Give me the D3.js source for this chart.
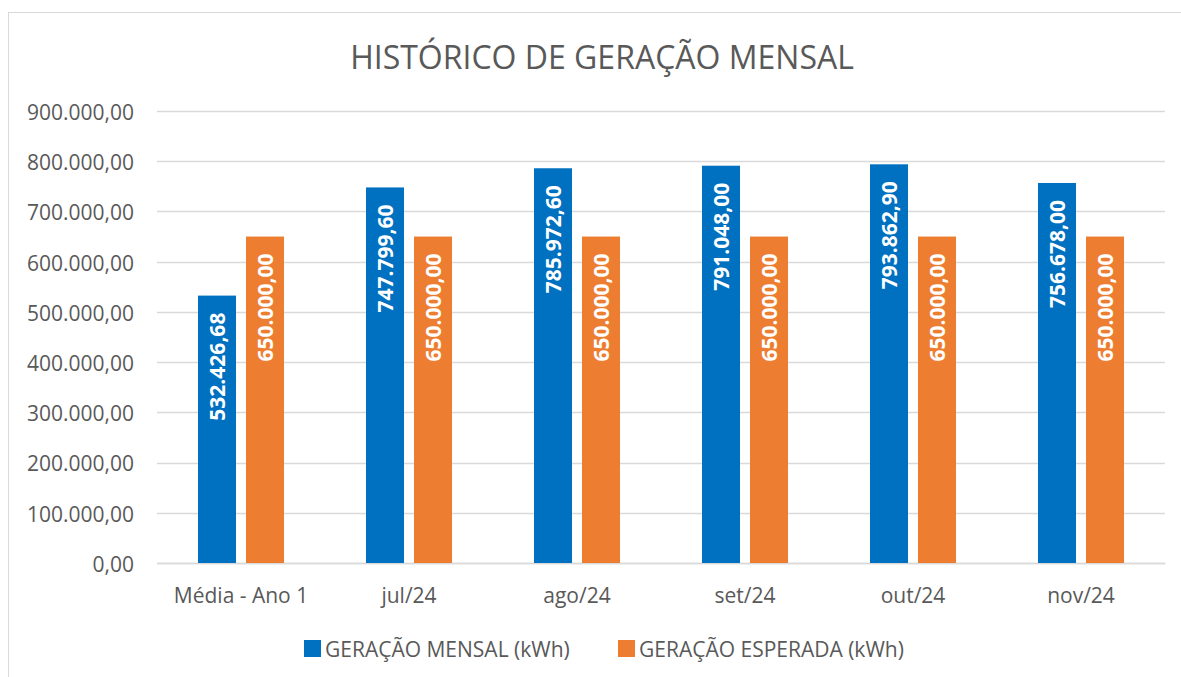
<!DOCTYPE html>
<html><head><meta charset="utf-8">
<script src="https://cdn.jsdelivr.net/npm/d3@7"></script>
<style>body{margin:0;background:#fff;} text{font-family:"Open Sans","Noto Sans",sans-serif;}</style>
</head><body><svg id="c" width="1181" height="677"></svg>
<script>
const categories = ["Média - Ano 1","jul/24","ago/24","set/24","out/24","nov/24"];
const seriesNames = ["GERAÇÃO MENSAL (kWh)","GERAÇÃO ESPERADA (kWh)"];
const geracaoMensal = [532426.68, 747799.60, 785972.60, 791048.00, 793862.90, 756678.00];
const geracaoEsperada = [650000, 650000, 650000, 650000, 650000, 650000];
const yTicks = [0,100000,200000,300000,400000,500000,600000,700000,800000,900000];
const colors = ["#0070C0","#ED7D31"];

const svg = d3.select("#c");
const fmt = v => {
  const s = v.toFixed(2).split(".");
  return s[0].replace(/\B(?=(\d{3})+(?!\d))/g, ".") + "," + s[1];
};
// chart border
svg.append("rect").attr("x",8.5).attr("y",12.5).attr("width",1200).attr("height",700)
  .attr("fill","#fff").attr("stroke","#d9d9d9").attr("stroke-width",1);

const m = {l:157, r:1165, t:111, b:563};
const x = d3.scaleBand().domain(categories).range([m.l,m.r]);
const y = d3.scaleLinear().domain([0,900000]).range([m.b,m.t]);
const inner = d3.scaleBand().domain([0,1]).range([41,127]).paddingInner(10/48).paddingOuter(0);

// gridlines
svg.append("g").selectAll("line").data(yTicks).join("line")
  .attr("x1",m.l).attr("x2",m.r).attr("y1",d=>Math.round(y(d))+0.5).attr("y2",d=>Math.round(y(d))+0.5)
  .attr("stroke","#d9d9d9").attr("stroke-width",1.3);

// y labels
const yAxis = d3.axisLeft(y).tickValues(yTicks).tickFormat(fmt).tickSize(0).tickPadding(23);
const ya = svg.append("g").attr("transform",`translate(${m.l},0)`).call(yAxis);
ya.select(".domain").remove();
ya.selectAll("text").attr("font-size",21).attr("fill","#595959").attr("dy","0.4em").style("font-family","'Open Sans',sans-serif");

// x labels
const xAxis = d3.axisBottom(x).tickSize(0).tickPadding(25);
const xa = svg.append("g").attr("transform",`translate(0,${m.b})`).call(xAxis);
xa.select(".domain").attr("stroke","#d9d9d9").attr("stroke-width",1.3);
xa.selectAll("text").attr("font-size",21).attr("fill","#595959").style("font-family","'Open Sans',sans-serif");

const series = [geracaoMensal, geracaoEsperada];
series.forEach((vals,si)=>{
  const g = svg.append("g");
  g.selectAll("rect").data(vals).join("rect")
    .attr("x",(d,i)=>x(categories[i])+inner(si))
    .attr("width",inner.bandwidth())
    .attr("y",d=>y(d)).attr("height",d=>m.b-y(d))
    .attr("fill",colors[si]);
  g.selectAll("text").data(vals).join("text")
    .attr("transform",(d,i)=>`translate(${x(categories[i])+inner(si)+inner.bandwidth()/2},${y(d)+17}) rotate(-90)`)
    .attr("dy","0.36em")
    .attr("text-anchor","end").attr("font-size",21).attr("font-weight","bold").attr("fill","#fff")
    .text(d=>fmt(d));
});

// title
svg.append("text").attr("x",602).attr("y",69).attr("text-anchor","middle")
  .attr("font-size",32).attr("fill","#595959").text("HISTÓRICO DE GERAÇÃO MENSAL");

// legend
const leg = [{x:304},{x:618}];
seriesNames.forEach((n,i)=>{
  svg.append("rect").attr("x",leg[i].x).attr("y",640).attr("width",17).attr("height",17).attr("fill",colors[i]);
  svg.append("text").attr("x",leg[i].x+21).attr("y",657).attr("font-size",21).attr("fill","#595959").text(n);
});
</script></body></html>
